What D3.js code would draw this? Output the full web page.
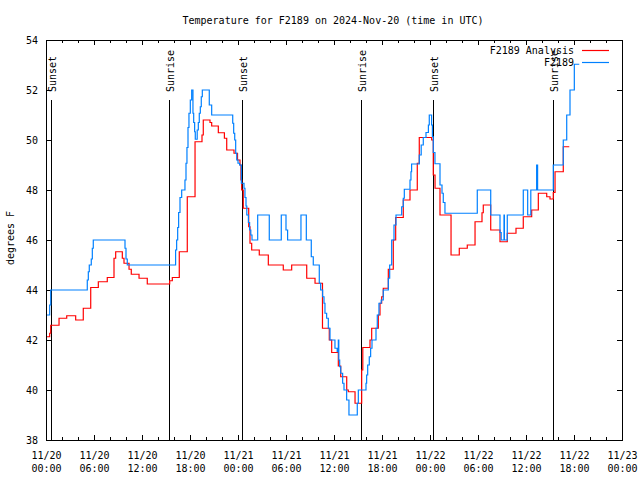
<!DOCTYPE html>
<html><head><meta charset="utf-8">
<script src="https://cdn.jsdelivr.net/npm/d3@7"></script>
<style>
body{margin:0;background:#fff}
text{font-family:"DejaVu Sans Mono","Liberation Mono",monospace;font-size:10px;fill:#000}
</style>
</head><body>
<svg id="c" width="640" height="480"></svg>
<script>
const startUTC = Date.UTC(2024, 10, 20);
const titleText = "Temperature for F2189 on 2024-Nov-20 (time in UTC)";
const yLabel = "degrees F";
const seriesNames = ["F2189 Analysis", "F2189"];
const seriesColors = ["#ff0000", "#0080ff"];

// hours since 2024-11-20 00:00 UTC, value starts at that hour (step)
const analysisHours = [0.08,0.46,0.59,1.63,2.59,3.71,4.66,5.59,6.54,7.66,8.5,8.71,9.54,9.75,10.38,10.66,11.63,12.66,15.46,15.79,16.66,17.66,18.63,19.5,19.66,20.5,20.71,21.54,22.3,22.59,23.5,23.94,24.25,24.37,24.46,24.66,25.34,25.5,25.71,26.66,27.79,29.66,30.71,32.59,33.63,34.56,35.41,35.71,36.54,36.84,37.59,37.79,38.63,39.46,39.6,40.5,40.71,41.54,41.75,41.96,42.16,42.79,43.41,43.71,44.66,45.5,46.41,46.66,48.21,48.41,48.63,49.25,50.63,51.66,52.66,53.63,54.5,54.66,55.59,56.75,57.66,58.75,59.66,60.71,61.54,62.59,63.0,63.41,63.63,64.66,65.41];
const analysisTemps = [42.13,42.27,42.59,42.87,42.97,42.8,43.27,44.1,44.33,44.5,45.27,45.53,45.27,45.07,44.83,44.63,44.47,44.24,44.37,44.5,45.53,47.73,49.93,50.2,50.8,50.7,50.56,50.29,50.07,49.6,49.47,49.2,49.0,48.4,48.0,47.27,46.53,45.87,45.6,45.4,45.0,44.8,45.0,44.47,44.27,42.47,42.0,41.5,40.96,40.53,40.0,39.93,39.47,40.8,41.7,42.0,42.47,43.0,43.47,43.73,44.07,44.83,46.0,46.9,47.6,48.0,49.07,50.1,50.0,48.6,48.07,47.0,45.4,45.67,45.8,46.73,47.09,47.4,46.4,45.93,46.27,46.47,46.93,47.2,47.87,47.73,47.64,47.9,48.73,49.73,49.73];

const obsHours = [0.05,0.46,0.59,5.16,5.29,5.41,5.66,5.79,5.91,9.875,10.0,10.16,16.2,16.33,16.46,16.58,16.75,16.96,17.37,17.5,17.62,17.75,17.87,18.04,18.21,18.37,18.46,18.58,18.66,18.9,19.04,19.16,19.29,19.41,19.54,20.41,20.71,23.34,23.46,23.59,23.71,23.84,24.0,24.2,24.42,24.75,24.87,25.0,25.1,25.3,25.45,25.6,25.75,26.46,27.91,29.41,30.0,30.2,31.87,32.54,33.16,33.41,34.16,34.33,34.58,34.75,34.87,35.08,35.29,35.5,36.12,36.4,36.54,36.6,36.71,36.84,37.08,37.25,37.58,37.87,38.91,39.04,40.0,40.08,40.21,40.41,40.58,40.75,41.25,41.41,41.62,41.9,42.16,42.79,42.96,43.21,43.5,43.75,44.46,44.66,44.79,45.5,45.62,45.7,46.66,46.9,47.16,47.5,47.8,47.91,48.2,48.3,48.41,48.62,49.25,49.5,49.66,49.87,53.91,55.59,56.75,56.9,57.25,57.3,57.66,59.66,60.21,60.6,61.33,61.45,63.41,64.66,65.09,65.5,66.04,66.66];
const obsTemps = [43,43.4,44,44.4,44.73,45.0,45.24,45.67,46,45.67,45.24,45,45.6,46,46.5,47.1,47.7,48,48.4,49.07,49.7,50.5,51.07,51.6,52,51.07,50.7,50.33,50.03,50.4,50.7,51.07,51.33,51.73,52,51.4,51,50.67,50.27,50,49.47,49.2,49.07,49,48.27,48.07,47.7,47.36,47,46.7,46.4,46.2,46,47,46,47,46.4,46,47,46,45.33,45,44.27,44,43.73,43.47,43.07,42.87,42.47,42,41.67,41.53,42,41.2,40.93,40.67,40.27,40,39.6,39,39.47,40,40.27,40.6,41,41.33,41.67,42,42.47,43,43.47,43.6,44,44.47,45,46,46.6,47,47.33,47.67,48.03,48.4,48.73,49.04,49.4,49.8,50.1,50.3,50.6,51,50.6,50.13,49.5,49.05,48.2,47.87,47.5,47.07,48,47,46.3,46,47,46,47,48,47,48,49,48,49,50,51,52,53.03,53.03];

const sunLabels = ["Sunset","Sunrise","Sunset","Sunrise","Sunset","Sunrise"];
const sunHours = [0.59,15.41,24.54,39.41,48.41,63.41];
const yTickValues = [38,40,42,44,46,48,50,52,54];

const H = 3600e3;
const toDate = h => new Date(startUTC + h * H);
const svg = d3.select("#c");
const L = 46, R = 622, T = 40, B = 440;
const x = d3.scaleUtc().domain([toDate(0), toDate(72)]).range([L, R]);
const y = d3.scaleLinear().domain([38, 54]).range([B, T]);

// title & y label
svg.append("text").attr("x", 333).attr("y", 23.5).attr("text-anchor", "middle").text(titleText);
svg.append("text").attr("transform", "translate(13.5,238) rotate(-90)").attr("text-anchor", "middle").text(yLabel);

// axes ticks
const fmtD = d3.utcFormat("%m/%d"), fmtT = d3.utcFormat("%H:%M");
const gb = svg.append("g").attr("transform", `translate(0,${B})`)
  .call(d3.axisBottom(x).ticks(d3.utcHour.every(6)).tickSize(-5).tickPadding(0));
gb.selectAll(".tick text").each(function(d){
  const t = d3.select(this).text(null).attr("dy", null).attr("y", null);
  t.append("tspan").attr("x", 0).attr("y", 18.5).text(fmtD(d));
  t.append("tspan").attr("x", 0).attr("y", 32).text(fmtT(d));
});
svg.append("g").attr("transform", `translate(0,${B})`)
  .call(d3.axisBottom(x).ticks(d3.utcHour.every(2)).tickSize(-3).tickFormat(""));
svg.append("g").attr("transform", `translate(0,${T})`)
  .call(d3.axisTop(x).ticks(d3.utcHour.every(6)).tickSize(-5).tickFormat(""));
svg.append("g").attr("transform", `translate(0,${T})`)
  .call(d3.axisTop(x).ticks(d3.utcHour.every(2)).tickSize(-3).tickFormat(""));
svg.append("g").attr("transform", `translate(${L},0)`)
  .call(d3.axisLeft(y).tickValues(yTickValues).tickSize(-5).tickPadding(8).tickFormat(d3.format("d")));
svg.append("g").attr("transform", `translate(${R},0)`)
  .call(d3.axisRight(y).tickValues(yTickValues).tickSize(-5).tickFormat(""));
svg.selectAll(".domain").remove();
svg.selectAll(".tick line").attr("stroke", "#000");
svg.selectAll(".tick text").attr("font-family", null).attr("font-size", null).attr("fill", "#000");

// sun lines
sunHours.forEach((h, i) => {
  const xx = Math.round(x(toDate(h))) + 0.5;
  svg.append("line").attr("x1", xx).attr("x2", xx).attr("y1", 100).attr("y2", B)
    .attr("stroke", "#000").attr("stroke-width", 1);
  svg.append("text").attr("transform", `translate(${xx + 4.5},92) rotate(-90)`).text(sunLabels[i]);
});

// series
const line = d3.line().x(d => x(toDate(d[0]))).y(d => y(d[1])).curve(d3.curveStepAfter);
const aData = analysisHours.map((h, i) => [h, analysisTemps[i]]);
const oData = obsHours.map((h, i) => [h, obsTemps[i]]);
[aData, oData].forEach((data, i) => {
  svg.append("path").datum(data).attr("d", line).attr("fill", "none")
    .attr("stroke", seriesColors[i]).attr("stroke-width", 1.2);
});

// legend
seriesNames.forEach((n, i) => {
  const yy = 50 + i * 12;
  svg.append("text").attr("x", 574).attr("y", yy + 3.5).attr("text-anchor", "end").text(n);
  svg.append("line").attr("x1", 582).attr("x2", 609).attr("y1", yy + 0.5).attr("y2", yy + 0.5)
    .attr("stroke", seriesColors[i]).attr("stroke-width", 1.2);
});

// frame
svg.append("rect").attr("x", L + 0.5).attr("y", T + 0.5).attr("width", R - L).attr("height", B - T)
  .attr("fill", "none").attr("stroke", "#000").attr("stroke-width", 1);
</script>
</body></html>
